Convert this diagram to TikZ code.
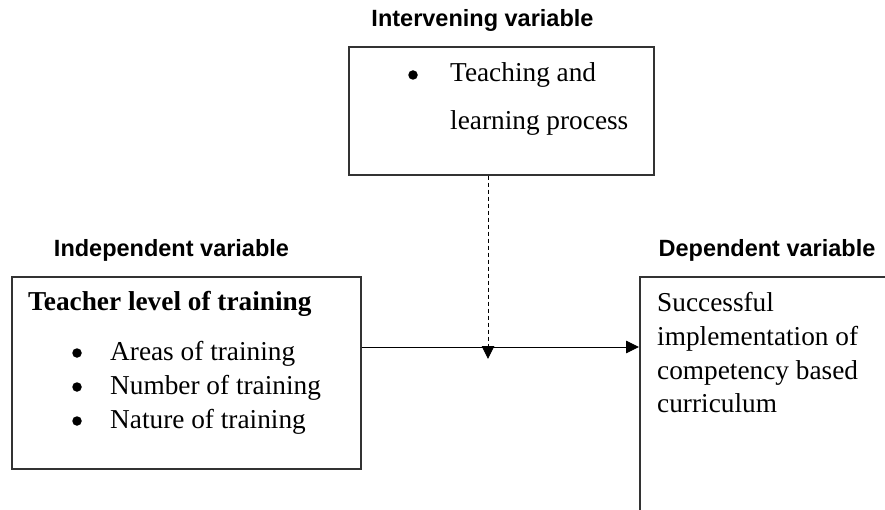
\documentclass[tikz,border=0pt]{standalone}
\usepackage{fontspec}
\setmainfont{Liberation Serif}
\setsansfont{Liberation Sans}
\usetikzlibrary{positioning,arrows.meta,calc}

\begin{document}
\begin{tikzpicture}[x=1pt,y=-1pt,
  heading/.style={font=\sffamily\bfseries\fontsize{23.5}{28}\selectfont,inner sep=0pt,anchor=base},
  varbox/.style={draw=black!80,line width=1.6pt,anchor=north west,inner sep=0pt},
  txt/.style={font=\fontsize{27.3}{34}\selectfont,anchor=base west,inner sep=0pt},
  bul/.style={circle,fill,inner sep=0pt,minimum size=9.5pt},
  link/.style={line width=0.9pt,-{Triangle[length=13pt,width=12.5pt]}}]
\useasboundingbox (0,0) rectangle (885,510);
\clip (0,0) rectangle (885,510);
% intervening variable
\node[heading] (intervhead) at (482.5,27) {Intervening variable};
\node[varbox,minimum width=305,minimum height=128] (interv) at (348,46) {};
\node[bul] (intervbul) at (413,75) {};
\node[txt] (interv1) at (450,82) {Teaching and};
\node[txt] (interv2) at (450,130) {learning process};
% independent variable
\node[heading] (indephead) at (171.5,257) {Independent variable};
\node[varbox,minimum width=349,minimum height=192] (indep) at (11,276) {};
\node[txt,font=\bfseries\fontsize{27.3}{34}\selectfont] (indeptitle) at (28,310) {Teacher level of training};
\foreach \y/\t [count=\i] in {360/Areas of training,394/Number of training,428/Nature of training} {
  \node[bul] (indepbul\i) at (77,\y-7) {};
  \node[txt] (indep\i) at (110,\y) {\t};
}
% dependent variable
\node[heading] (dephead) at (767,257) {Dependent variable};
\node[varbox,minimum width=300,minimum height=300] (dep) at (639,276) {};
\foreach \y/\t [count=\i] in {311/Successful,345/implementation of,379/competency based,412/curriculum} {
  \node[txt] (dep\i) at (657,\y) {\t};
}
% connectors
\coordinate (joint) at (488,347);
\draw[link] (indep.east |- joint) -- (dep.west |- joint);
\draw[link,dash pattern=on 4pt off 3pt] (interv.south -| joint) -- ($(joint)+(0,12)$);
\end{tikzpicture}
\end{document}
